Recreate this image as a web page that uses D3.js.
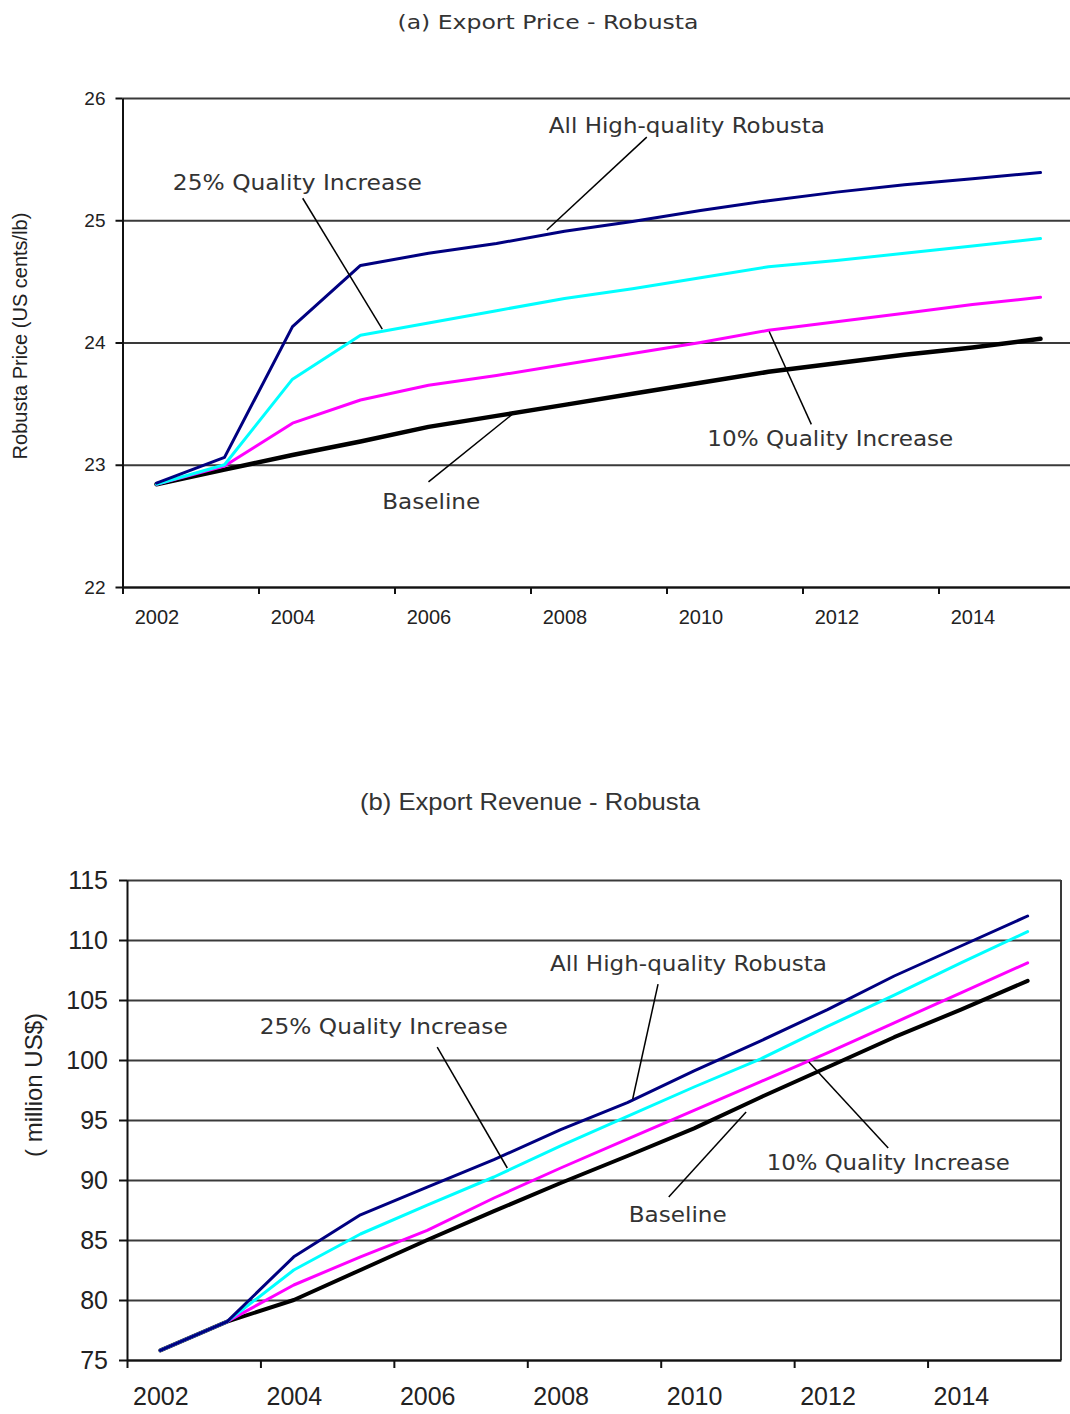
<!DOCTYPE html>
<html>
<head>
<meta charset="utf-8">
<script src="https://cdn.jsdelivr.net/npm/d3@7/dist/d3.min.js"></script>
<style>
  body { margin: 0; background: #fff; }
  svg { display: block; }
</style>
</head>
<body>
<div id="chart"></div>
<script>
// ---- data ----
var years = [2002, 2003, 2004, 2005, 2006, 2007, 2008, 2009, 2010, 2011, 2012, 2013, 2014, 2015];
var yearLabels = [2002, 2004, 2006, 2008, 2010, 2012, 2014];

// (a) export price, US cents/lb
var priceBaseline = [22.84, 22.96, 23.08, 23.19, 23.31, 23.40, 23.49, 23.58, 23.67, 23.76, 23.83, 23.90, 23.96, 24.03];
var priceQ10      = [22.84, 22.99, 23.34, 23.53, 23.65, 23.73, 23.82, 23.91, 24.00, 24.10, 24.17, 24.24, 24.31, 24.37];
var priceQ25      = [22.84, 23.00, 23.70, 24.06, 24.16, 24.26, 24.36, 24.44, 24.53, 24.62, 24.67, 24.73, 24.79, 24.85];
var priceAllHQ    = [22.85, 23.06, 24.13, 24.63, 24.73, 24.81, 24.91, 24.99, 25.08, 25.16, 25.23, 25.29, 25.34, 25.39];
var priceTicks = [22, 23, 24, 25, 26];

// (b) export revenue, million US$
var revBaseline = [75.8, 78.2, 80.0, 82.5, 85.0, 87.4, 89.75, 92.0, 94.3, 96.9, 99.4, 101.9, 104.2, 106.6];
var revQ10      = [75.8, 78.2, 81.25, 83.6, 85.8, 88.5, 91.0, 93.4, 95.8, 98.2, 100.6, 103.1, 105.6, 108.1];
var revQ25      = [75.8, 78.2, 82.5, 85.5, 87.9, 90.25, 92.85, 95.3, 97.75, 100.1, 102.8, 105.4, 108.1, 110.7];
var revAllHQ    = [75.8, 78.2, 83.6, 87.1, 89.4, 91.7, 94.2, 96.45, 99.1, 101.6, 104.2, 107.0, 109.5, 112.0];
var revTicks = [75, 80, 85, 90, 95, 100, 105, 110, 115];

var seriesNames = ["Baseline", "10% Quality Increase", "25% Quality Increase", "All High-quality Robusta"];
var seriesColors = ["#000000", "#ff00ff", "#00ffff", "#000080"];

// callouts: text corner and leader line, in data units (year, value)
var priceNotes = [
  {name: "All High-quality Robusta", tx: 2007.77, ty: 25.71, len: 276, x1: 2009.21, y1: 25.68, x2: 2007.74, y2: 24.92},
  {name: "25% Quality Increase",     tx: 2002.24, ty: 25.25, len: 249, x1: 2004.15, y1: 25.18, x2: 2005.32, y2: 24.11},
  {name: "10% Quality Increase",     tx: 2010.10, ty: 23.15, len: 246, x1: 2011.63, y1: 23.33, x2: 2011.01, y2: 24.09},
  {name: "Baseline",                 tx: 2005.32, ty: 22.64, len: 98,  x1: 2006.00, y1: 22.86, x2: 2007.27, y2: 23.43}
];
var revNotes = [
  {name: "All High-quality Robusta", tx: 2007.84, ty: 107.42, len: 277, x1: 2009.46, y1: 106.33, x2: 2009.08, y2: 96.75},
  {name: "25% Quality Increase",     tx: 2003.49, ty: 102.17, len: 248, x1: 2006.15, y1: 101.08, x2: 2007.20, y2: 91.0},
  {name: "10% Quality Increase",     tx: 2011.09, ty: 90.83,  len: 243, x1: 2012.91, y1: 92.67,  x2: 2011.72, y2: 99.83},
  {name: "Baseline",                 tx: 2009.02, ty: 86.5,   len: 98,  x1: 2009.62, y1: 88.58,  x2: 2010.78, y2: 95.67}
];

var W = 1070, H = 1414;
var svg = d3.select("#chart").append("svg")
    .attr("width", W)
    .attr("height", H);

var tickFont = "'Liberation Sans', Arial, sans-serif";
var noteFont = "'DejaVu Sans', Verdana, sans-serif";

function drawPanel(p) {
    var x = d3.scaleLinear().domain([years[0] - 0.5, years[years.length - 1] + 0.5]).range([p.left, p.right]);
    var y = d3.scaleLinear().domain([p.ticks[0], p.ticks[p.ticks.length - 1]]).range([p.bottom, p.top]);
    var g = svg.append("g");

    // horizontal gridlines
    g.append("g")
        .attr("transform", "translate(" + p.left + ",0)")
        .call(d3.axisLeft(y).tickValues(p.ticks).tickSize(-(p.right - p.left)).tickFormat(""))
        .call(function(s) { s.select(".domain").remove(); })
        .selectAll("line")
        .attr("stroke", "#3a3a3a")
        .attr("stroke-width", 2);

    if (p.frame) {
        g.append("line")
            .attr("x1", p.right).attr("x2", p.right)
            .attr("y1", p.top).attr("y2", p.bottom)
            .attr("stroke", "#3a3a3a").attr("stroke-width", 2);
    }

    // y axis with labels
    var ya = g.append("g")
        .attr("transform", "translate(" + p.left + ",0)")
        .call(d3.axisLeft(y).tickValues(p.ticks).tickSize(p.tickLen).tickPadding(p.yPad)
            .tickSizeOuter(0).tickFormat(d3.format("d")));
    ya.select(".domain").attr("stroke", "#111").attr("stroke-width", 2);
    ya.selectAll(".tick line").attr("stroke", "#111").attr("stroke-width", 2);
    ya.selectAll("text")
        .style("font-family", tickFont)
        .style("font-size", p.yFont + "px")
        .attr("fill", "#222");

    // x axis: tick marks between category pairs
    var bounds = years.filter(function(d, i) { return i % 2 === 0; }).map(function(d) { return d - 0.5; });
    var xa = g.append("g")
        .attr("transform", "translate(0," + p.bottom + ")")
        .call(d3.axisBottom(x).tickValues(bounds).tickSize(p.tickLen).tickFormat("").tickSizeOuter(0));
    xa.select(".domain").attr("stroke", "#111").attr("stroke-width", 2);
    xa.selectAll(".tick line").attr("stroke", "#111").attr("stroke-width", 2);

    // x labels centred on their category
    var xl = g.append("g")
        .attr("transform", "translate(0," + p.bottom + ")")
        .call(d3.axisBottom(x).tickValues(yearLabels).tickSize(0).tickPadding(p.xPad).tickFormat(d3.format("d")));
    xl.select(".domain").remove();
    xl.selectAll("text")
        .style("font-family", tickFont)
        .style("font-size", p.xFont + "px")
        .attr("fill", "#222");

    // y title
    g.append("text")
        .attr("transform", "translate(" + p.yTitleX + "," + p.yTitleY + ") rotate(-90)")
        .attr("text-anchor", "middle")
        .style("font-family", tickFont)
        .style("font-size", p.yTitleFont + "px")
        .attr("fill", "#222")
        .text(p.yTitle);

    // panel title
    g.append("text")
        .attr("x", p.titleX)
        .attr("y", p.titleY)
        .attr("text-anchor", "middle")
        .attr("textLength", p.titleLen)
        .attr("lengthAdjust", "spacingAndGlyphs")
        .style("font-family", p.titleFont)
        .style("font-size", p.titleSize + "px")
        .attr("fill", "#333")
        .text(p.title);

    // series lines
    var line = d3.line()
        .x(function(d, i) { return x(years[i]); })
        .y(function(d) { return y(d); });

    p.series.forEach(function(vals, k) {
        g.append("path")
            .datum(vals)
            .attr("fill", "none")
            .attr("stroke", seriesColors[k])
            .attr("stroke-width", k === 0 ? p.baseWidth : 3)
            .attr("stroke-linejoin", "round")
            .attr("stroke-linecap", "round")
            .attr("d", line);
    });

    // callouts
    p.notes.forEach(function(n) {
        g.append("line")
            .attr("x1", x(n.x1)).attr("y1", y(n.y1))
            .attr("x2", x(n.x2)).attr("y2", y(n.y2))
            .attr("stroke", "#000")
            .attr("stroke-width", 1.5);
        g.append("text")
            .attr("x", x(n.tx))
            .attr("y", y(n.ty))
            .attr("textLength", n.len)
            .attr("lengthAdjust", "spacingAndGlyphs")
            .style("font-family", noteFont)
            .style("font-size", "22px")
            .attr("fill", "#333")
            .text(n.name);
    });
}

drawPanel({
    left: 122.5, right: 1074.5, top: 98, bottom: 587,
    ticks: priceTicks, tickLen: 7, yPad: 10, yFont: 19, xPad: 23, xFont: 20,
    yTitle: "Robusta Price (US cents/lb)", yTitleX: 27, yTitleY: 336, yTitleFont: 20,
    title: "(a) Export Price - Robusta", titleX: 548, titleY: 29, titleLen: 301,
    titleFont: noteFont, titleSize: 20,
    series: [priceBaseline, priceQ10, priceQ25, priceAllHQ], baseWidth: 4.5,
    notes: priceNotes, frame: false
});

drawPanel({
    left: 127, right: 1061, top: 880, bottom: 1360,
    ticks: revTicks, tickLen: 8, yPad: 11, yFont: 25, xPad: 27, xFont: 25,
    yTitle: "( million US$)", yTitleX: 42, yTitleY: 1085, yTitleFont: 24,
    title: "(b) Export Revenue - Robusta", titleX: 530, titleY: 810, titleLen: 340,
    titleFont: tickFont, titleSize: 24,
    series: [revBaseline, revQ10, revQ25, revAllHQ], baseWidth: 4,
    notes: revNotes, frame: true
});
</script>
</body>
</html>
